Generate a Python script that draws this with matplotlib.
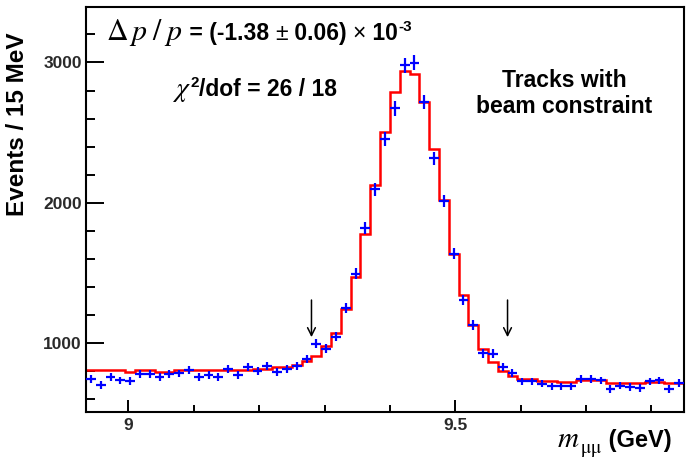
import numpy as np
import matplotlib
matplotlib.use("Agg")
import matplotlib.pyplot as plt
from matplotlib.ticker import MultipleLocator, FixedLocator

# ── histogram data: 61 bins of 15 MeV, 8.935 .. 9.850 GeV ──────────────────
M_LO, BIN_W, N_BINS = 8.935, 0.015, 61

counts = [741, 698, 756, 731, 728, 776, 779, 757, 776, 781,
          804, 757, 768, 758, 815, 772, 829, 801, 836, 794,
          815, 836, 886, 993, 957, 1043, 1250, 1494, 1818, 2096,
          2452, 2672, 2979, 2998, 2717, 2316, 2012, 1636, 1304, 1128,
          925, 922, 824, 787, 725, 725, 708, 689, 689, 689,
          742, 742, 732, 670, 694, 685, 678, 725, 732, 670,
          713]

fit = [803, 803, 803, 803, 789, 806, 806, 791, 791, 803,
       803, 803, 803, 803, 803, 803, 803, 813, 813, 824,
       824, 843, 867, 907, 974, 1073, 1240, 1472, 1776, 2125,
       2504, 2788, 2936, 2920, 2717, 2386, 2018, 1633, 1342, 1128,
       955, 860, 796, 765, 742, 742, 730, 730, 722, 722,
       737, 737, 737, 713, 713, 713, 713, 718, 718, 710,
       710]

# signal window markers (GeV)
window = [9.28, 9.58]

FS = (6.93, 4.69)
DPI = 100
W, H = 693, 469
SANS = "Liberation Sans"
TXT = 16.5

plt.rcParams["mathtext.fontset"] = "stix"


def fx(px):
    return px / W


def fy(py):
    return 1 - py / H


def chain(fig, x, y, parts):
    """Lay text pieces side by side on one baseline (pixel coords)."""
    r = fig.canvas.get_renderer()
    cur = fx(x)
    for s, kw in parts:
        kw = dict(kw)
        dy = kw.pop("dy", 0)
        t = fig.text(cur, fy(y - dy), s, va="baseline", ha="left", **kw)
        bb = t.get_window_extent(renderer=r)
        cur = bb.x1 / W


edges = M_LO + BIN_W * np.arange(N_BINS + 1)
centers = 0.5 * (edges[:-1] + edges[1:])
counts = np.array(counts, dtype=float)
fit = np.array(fit, dtype=float)

fig = plt.figure(figsize=FS, dpi=DPI)
ax = fig.add_axes([fx(86), fy(412), fx(684) - fx(86), fy(7) - fy(412)])

ax.stairs(fit, edges, baseline=None, color="red", lw=1.8, zorder=2)
ax.errorbar(centers, counts, xerr=BIN_W / 2, yerr=np.sqrt(counts),
            fmt="none", ecolor="blue", elinewidth=1.6, capsize=0, zorder=3)

for xm in window:
    ax.annotate("", xy=(xm, 1040), xytext=(xm, 1305),
                arrowprops=dict(arrowstyle="->", color="black", lw=1.1,
                                mutation_scale=14, shrinkA=0, shrinkB=0))

ax.set_xlim(M_LO, M_LO + BIN_W * N_BINS)
ax.set_ylim(506, 3396)

ax.xaxis.set_major_locator(FixedLocator([9.0, 9.5]))
ax.xaxis.set_minor_locator(MultipleLocator(0.1))
ax.yaxis.set_major_locator(MultipleLocator(1000))
ax.yaxis.set_minor_locator(MultipleLocator(200))
ax.set_xticklabels(["9", "9.5"])

ax.tick_params(axis="x", which="major", direction="in", length=9, width=1.4,
               pad=4, labelsize=12.5)
ax.tick_params(axis="x", which="minor", direction="in", length=5, width=1.4)
ax.tick_params(axis="y", which="major", direction="in", length=13, width=1.4,
               pad=3, labelsize=12.5)
ax.tick_params(axis="y", which="minor", direction="in", length=6.5, width=1.4)
for lab in ax.get_xticklabels() + ax.get_yticklabels():
    lab.set_fontfamily(SANS)
    lab.set_fontweight("bold")
    lab.set_color("#2a2a2a")
for sp in ax.spines.values():
    sp.set_linewidth(1.5)

# axis titles
fig.text(fx(18), fy(124), "Events / 15 MeV", rotation=90, ha="center",
         va="center", family=SANS, weight="bold", size=17.5)
chain(fig, 557, 447, [
    ("$m$", dict(size=21)),
    ("$\\mathrm{\\mu\\mu}$", dict(size=14, dy=-6)),
    (" (GeV)", dict(family=SANS, weight="bold", size=17)),
])

# fit annotations
chain(fig, 106, 40, [
    ("$\\Delta\\,p\\;/\\;p$", dict(size=21.5)),
    (" = (-1.38 ", dict(family=SANS, weight="bold", size=TXT)),
    ("±", dict(family=SANS, size=TXT)),
    (" 0.06) ", dict(family=SANS, weight="bold", size=TXT)),
    ("×", dict(family=SANS, size=TXT)),
    (" 10", dict(family=SANS, weight="bold", size=TXT)),
    ("-3", dict(family=SANS, weight="bold", size=11, dy=9)),
])
chain(fig, 172, 96, [
    ("$\\chi$", dict(size=20)),
    ("2", dict(family=SANS, weight="bold", size=11, dy=9)),
    ("/dof = 26 / 18", dict(family=SANS, weight="bold", size=TXT)),
])

fig.text(fx(564), fy(87), "Tracks with", ha="center", va="baseline",
         family=SANS, weight="bold", size=TXT)
fig.text(fx(564), fy(113), "beam constraint", ha="center", va="baseline",
         family=SANS, weight="bold", size=TXT)

fig.savefig("out.png", dpi=DPI)
